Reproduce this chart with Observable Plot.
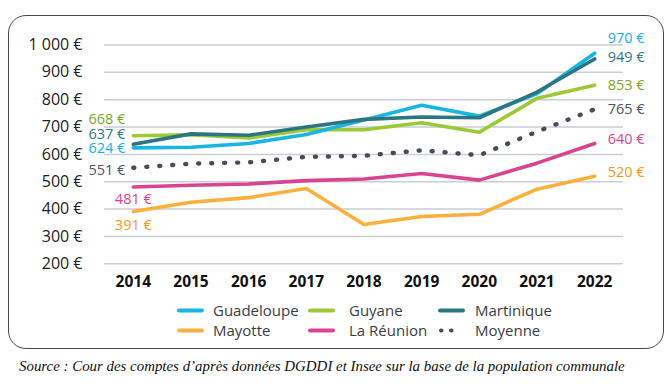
<!DOCTYPE html>
<html>
<head>
<meta charset="utf-8">
<script src="https://cdn.jsdelivr.net/npm/d3@7"></script>
<script src="https://cdn.jsdelivr.net/npm/@observablehq/plot@0.6"></script>
<style>
  html, body { margin: 0; padding: 0; background: #fff; width: 672px; height: 386px; overflow: hidden; }
  #frame { position: absolute; left: 8px; top: 15px; width: 656px; height: 334px; box-sizing: border-box;
           border: 1.6px solid #454a55; border-radius: 18px; }
  #chart { position: absolute; left: 0; top: 0; }
  #legend { position: absolute; left: 0; top: 0; width: 672px; height: 386px; font-family: "Open Sans", sans-serif; font-size: 15px; color: #3a3d45; }
  .item { position: absolute; height: 20px; line-height: 20px; white-space: nowrap; }
  #source { position: absolute; left: 19px; top: 358px; font-family: "Liberation Serif", "Times New Roman", serif; font-style: italic; font-size: 14.9px; color: #111; white-space: nowrap; }
</style>
</head>
<body>
<div id="frame"></div>
<div id="chart"></div>
<div id="legend"></div>
<div id="source">Source : Cour des comptes d’après données DGDDI et Insee sur la base de la population communale</div>
<script>
// ---- Data ----
const years = [2014, 2015, 2016, 2017, 2018, 2019, 2020, 2021, 2022];
const guadeloupe = [624, 626, 640, 673, 726, 780, 740, 822, 970];
const guyane     = [668, 672, 660, 690, 690, 716, 681, 805, 853];
const martinique = [637, 675, 670, 700, 728, 737, 734, 828, 949];
const mayotte    = [391, 425, 442, 475, 344, 373, 381, 473, 520];
const reunion    = [481, 487, 492, 504, 510, 530, 506, 568, 640];
const moyenne    = [551, 566, 571, 591, 595, 615, 597, 683, 765];
const yTicks = [200, 300, 400, 500, 600, 700, 800, 900, 1000];
const seriesNames = ["Guadeloupe", "Guyane", "Martinique", "Mayotte", "La Réunion", "Moyenne"];
const seriesValues = [guadeloupe, guyane, martinique, mayotte, reunion, moyenne];

// ---- Styles ----
const style = {
  "Guadeloupe": {stroke: "#1ab6e2", text: "#14b3e0", left: {anchor: "end", dx: -8, dy: 1},  right: {dy: -15}},
  "Guyane":     {stroke: "#9cc935", text: "#7fa825", left: {anchor: "end", dx: -8, dy: -16}, right: {dy: 0}},
  "Martinique": {stroke: "#2c7682", text: "#2d7a85", left: {anchor: "end", dx: -8, dy: -10}, right: {dy: -2}},
  "Mayotte":    {stroke: "#fbb03b", text: "#f39a12", left: {anchor: "middle", dx: 0, dy: 14}, right: {dy: -4}},
  "La Réunion": {stroke: "#d84492", text: "#d9438f", left: {anchor: "middle", dx: 0, dy: 12}, right: {dy: -4}},
  "Moyenne":    {stroke: "#474c5b", text: "#4d5260", left: {anchor: "end", dx: -8, dy: 3},  right: {dy: 0}, dotted: true}
};
const drawOrder = ["Mayotte", "La Réunion", "Moyenne", "Guyane", "Guadeloupe", "Martinique"];

const rows = [];
seriesNames.forEach((s, i) => years.forEach((y, j) => rows.push({series: s, year: y, value: seriesValues[i][j]})));

const euro = d3.formatLocale({decimal: ",", thousands: "\u00a0", grouping: [3], currency: ["", "\u00a0€"]}).format("$,");

const marks = [
  Plot.ruleY(yTicks, {stroke: "#c9cdd5", strokeWidth: 1.5}),
  Plot.axisY({ticks: yTicks, tickSize: 0, tickPadding: 22, tickFormat: euro, fontSize: 16, fill: "#222", label: null}),
  Plot.axisX({ticks: years, tickSize: 0, tickPadding: 12, tickFormat: d => String(d), fontSize: 15.5, fontWeight: "bold", fill: "#111", label: null})
];
for (const s of drawOrder) {
  const st = style[s];
  const data = rows.filter(r => r.series === s);
  marks.push(Plot.line(data, {
    x: "year", y: "value", stroke: st.stroke, strokeWidth: st.dotted ? 4.4 : 3.6,
    strokeDasharray: st.dotted ? "1 12" : null, strokeLinecap: "round", strokeLinejoin: "round"
  }));
}
for (const s of seriesNames) {
  const st = style[s];
  const data = rows.filter(r => r.series === s);
  const first = data[0], last = data[data.length - 1];
  marks.push(Plot.text([first], {x: "year", y: "value", text: d => euro(d.value), fill: st.text,
    textAnchor: st.left.anchor, dx: st.left.dx, dy: st.left.dy, fontSize: 14.5, fontWeight: 500}));
  marks.push(Plot.text([last], {x: "year", y: "value", text: d => euro(d.value), fill: st.text,
    textAnchor: "start", dx: 13, dy: st.right.dy, fontSize: 14.5, fontWeight: 500}));
}

const chart = Plot.plot({
  width: 672, height: 300,
  marginLeft: 104, marginRight: 49, marginTop: 44.5, marginBottom: 36.7,
  x: {domain: [2013.5, 2022.5]},
  y: {domain: [200, 1000]},
  style: {fontFamily: "'Open Sans', sans-serif", background: "transparent", overflow: "visible"},
  marks
});
document.getElementById("chart").appendChild(chart);

// ---- Legend ----
const legend = document.getElementById("legend");
const swX = [178, 309, 439], txX = [213, 349, 475], rowY = [300, 320];
seriesNames.forEach((s, i) => {
  const col = i % 3, row = Math.floor(i / 3);
  const st = style[s];
  const sw = document.createElementNS("http://www.w3.org/2000/svg", "svg");
  sw.setAttribute("width", 30); sw.setAttribute("height", 20);
  sw.style.position = "absolute"; sw.style.left = (swX[col] - 3) + "px"; sw.style.top = rowY[row] + "px";
  const ln = document.createElementNS("http://www.w3.org/2000/svg", "line");
  ln.setAttribute("x1", st.dotted ? 5 : 4); ln.setAttribute("x2", st.dotted ? 25 : 27);
  ln.setAttribute("y1", 10.5); ln.setAttribute("y2", 10.5);
  ln.setAttribute("stroke", st.stroke); ln.setAttribute("stroke-width", 4);
  ln.setAttribute("stroke-linecap", "round");
  if (st.dotted) ln.setAttribute("stroke-dasharray", "0.5 9.5");
  sw.appendChild(ln);
  legend.appendChild(sw);
  const t = document.createElement("div");
  t.className = "item"; t.textContent = s;
  t.style.left = txX[col] + "px"; t.style.top = rowY[row] + "px";
  legend.appendChild(t);
});
</script>
</body>
</html>
